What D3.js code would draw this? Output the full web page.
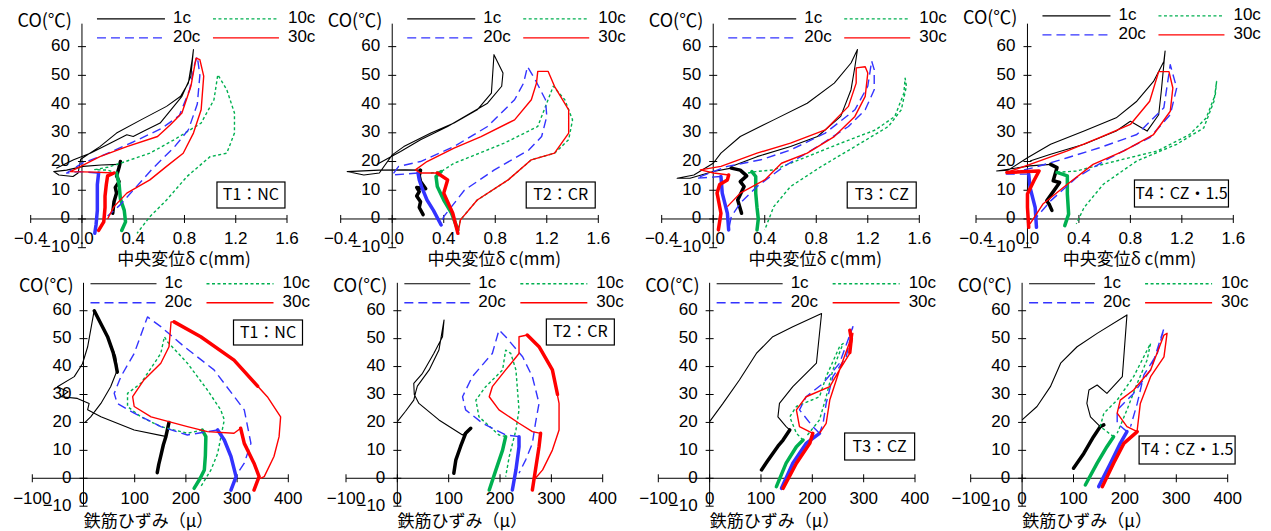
<!DOCTYPE html>
<html>
<head>
<meta charset="utf-8">
<script src="https://cdn.jsdelivr.net/npm/d3@7"></script>
<style>
body { margin: 0; background: #fff; }
svg { display: block; }
text { font-family: "Liberation Sans", Arial, sans-serif; fill: #000; }
.jp { font-family: "Noto Sans CJK JP", sans-serif; }
</style>
</head>
<body>
<svg id="chart" width="1271" height="531"></svg>
<script>
// series / ticks / labels
const seriesNames = ["1c", "10c", "20c", "30c"];
const topXTicks = [-0.4, 0, 0.4, 0.8, 1.2, 1.6];
const botXTicks = [-100, 0, 100, 200, 300, 400];
const yTicks = [-10, 0, 10, 20, 30, 40, 50, 60];
const panelNames = ["T1：NC", "T2：CR", "T3：CZ", "T4：CZ・1.5", "T1：NC", "T2：CR", "T3：CZ", "T4：CZ・1.5"];
const topXTitle = "中央変位δ c(mm)";
const botXTitle = "鉄筋ひずみ（μ）";
const yTitle = "CO(℃)";

// ---- top row: 中央変位 (mm) vs CO ----
// T1:NC
const d1_c1 = [[0.29,19],[0.15,18.8],[0.01,18.3],[-0.12,17],[-0.22,16.5],[-0.18,15.3],[-0.07,14.8],[-0.03,16],[-0.01,20.8],[0.14,25.2],[0.27,29.9],[0.46,34.5],[0.66,39.2],[0.77,42.7],[0.83,47.3],[0.86,55.5],[0.87,59],[0.85,49.7],[0.78,42.7],[0.61,33.4],[0.48,30.5],[0.40,28.7],[0.35,29.3],[0.22,26.4],[0.065,22.9],[-0.065,20.6],[-0.2,17.7]];
const d1_c1_heavy = [[[0.24,2],[0.25,6],[0.27,9],[0.26,11],[0.29,13],[0.27,15],[0.29,18],[0.30,20]]];
const d1_c10 = [[0.27,16],[0.2,17],[0.1,17.2],[0.2,18],[0.30,19.4],[0.53,22.9],[0.72,27.6],[0.93,33.4],[1.03,41.5],[1.06,50.2],[1.13,45],[1.19,36.9],[1.19,29.9],[1.13,22.9],[1.0,21.7],[0.82,14.8],[0.66,6.6],[0.53,0.8],[0.43,-5]];
const d1_c10_heavy = [[[0.31,-4],[0.34,-1],[0.33,3],[0.30,7],[0.29,12],[0.27,16]]];
const d1_c20 = [[0.12,16],[-0.02,16.5],[-0.12,16],[0,19.4],[0.14,21.7],[0.40,26.8],[0.62,31.5],[0.76,36],[0.84,45],[0.88,54],[0.9,56.6],[0.92,50],[0.9,40],[0.83,31],[0.72,25],[0.55,17.5],[0.42,11],[0.3,5],[0.2,1]];
const d1_c20_heavy = [[[0.10,-5],[0.11,-2],[0.12,3],[0.12,8],[0.12,12],[0.13,16]]];
const d1_c30 = [[0.25,16],[0.1,16.3],[-0.09,16.5],[-0.01,18.3],[0.14,21.7],[0.35,25.2],[0.59,28.7],[0.69,32.8],[0.78,36.9],[0.85,46.2],[0.89,56],[0.92,55.5],[0.95,49.7],[0.93,38],[0.87,29.9],[0.79,22.9],[0.66,18.3],[0.53,13.6],[0.35,9],[0.25,4.3],[0.2,0]];
const d1_c30_heavy = [[[0.13,-4],[0.17,-1],[0.18,4],[0.18,8],[0.19,12],[0.2,15],[0.25,16]]];
// T2:CR
const d2_c1 = [[0.22,17],[0.1,17.1],[-0.1,17],[-0.35,16.5],[-0.22,15.3],[-0.1,16],[0,22.3],[0.09,25.2],[0.3,29.9],[0.48,33.4],[0.66,38],[0.77,43.8],[0.79,57.2],[0.86,50.8],[0.85,46.2],[0.74,40.3],[0.61,36.9],[0.43,32.2],[0.22,27.6],[0.065,23.5],[-0.01,21.7],[-0.12,19]];
const d2_c1_heavy = [[[0.24,1.5],[0.21,4],[0.22,6],[0.19,8],[0.21,9.5],[0.19,11],[0.26,10.5],[0.22,13],[0.21,15],[0.22,17]]];
const d2_c10 = [[0.30,16],[0.38,16.5],[0.48,19.4],[0.61,21.7],[0.87,26.4],[1.13,32.2],[1.21,41.5],[1.25,46.2],[1.34,41.5],[1.4,34.5],[1.37,27.6],[1.26,22.9],[1.08,20.6],[0.9,13.6],[0.66,6.6],[0.53,-0.3],[0.51,-3.8]];
const d2_c10_heavy = [[[0.51,-3.8],[0.46,2],[0.40,6.6],[0.35,11.3],[0.34,14.8],[0.38,16.5]]];
const d2_c20 = [[0.2,16],[0,15.3],[0.05,18.3],[0.22,20],[0.48,25.2],[0.74,32.2],[0.95,41.5],[1.02,47.3],[1.05,53],[1.11,48.5],[1.19,41.5],[1.2,35.7],[1.16,28.7],[1.06,24],[0.79,17],[0.56,10],[0.4,0.8],[0.39,-0.3]];
const d2_c20_heavy = [[[0.38,-2.1],[0.32,3],[0.27,6.6],[0.23,11],[0.21,13.6],[0.2,16]]];
const d2_c30 = [[0.35,16],[0.22,16],[0.18,17.1],[0.27,20],[0.48,24.7],[0.69,28.7],[0.95,34.5],[1.08,41.5],[1.12,47.3],[1.13,51.4],[1.21,51.4],[1.26,46.2],[1.37,38],[1.37,29.9],[1.26,22.9],[1.08,20.6],[0.9,13.6],[0.66,6.6],[0.53,-0.3],[0.51,-5]];
const d2_c30_heavy = [[[0.51,-5],[0.47,2],[0.4,9],[0.43,13.6],[0.35,16]]];
// T3:CZ
const d3_c1 = [[0.14,17.7],[0,16.5],[-0.18,14.2],[-0.28,14.2],[-0.15,15.3],[0,19.4],[0.06,22.9],[0.21,28.7],[0.47,34.5],[0.73,40.3],[0.94,47.3],[1.07,54.3],[1.12,59],[1.1,53],[1.07,45],[0.99,35.7],[0.81,28.7],[0.6,25.2],[0.34,21.7],[0.14,18.3]];
const d3_c1_heavy = [[[0.22,2],[0.19,6.6],[0.24,11.3],[0.21,13],[0.26,15],[0.21,17],[0.14,17.7]]];
const d3_c10 = [[0.27,16],[0.33,16.5],[0.47,17.1],[0.73,21.7],[0.99,26.4],[1.26,31],[1.41,35.7],[1.48,43.8],[1.49,49],[1.5,46.2],[1.46,38],[1.36,32.2],[1.1,25.2],[0.84,18.3],[0.6,11.3],[0.47,4.3],[0.4,-3.8]];
const d3_c10_heavy = [[[0.34,-3.8],[0.35,0],[0.34,4],[0.33,9],[0.33,14.8],[0.3,16.5]]];
const d3_c20 = [[0.06,14.8],[-0.13,14.2],[0.0,16.5],[0.11,18.3],[0.37,20.6],[0.6,24],[0.87,29.9],[1.1,38],[1.2,46.2],[1.23,55],[1.25,52],[1.25,45],[1.18,38],[1.05,32.2],[0.81,25.2],[0.55,18.3],[0.34,11.3],[0.21,5.5],[0.14,0.8],[0.12,-3.8]];
const d3_c20_heavy = [[[0.12,-3.8],[0.11,2],[0.07,9],[0.06,14.8]]];
const d3_c30 = [[0.12,15.3],[0.005,16],[-0.1,17.1],[0.06,18.3],[0.34,22.9],[0.6,26.4],[0.87,31],[1.05,39.2],[1.11,47.3],[1.11,52.6],[1.18,53],[1.2,50.8],[1.18,42.7],[1.1,35.7],[0.94,28.7],[0.73,22.9],[0.53,19.4],[0.4,13.6],[0.21,9],[0.11,4.3]];
const d3_c30_heavy = [[[0.04,-3.8],[0.06,2],[0.03,9],[0.05,12],[0.11,13.6],[0.12,15.3]]];
// T4:CZ・1.5
const d4_c1 = [[0.18,19],[0.02,18.5],[-0.24,16.7],[-0.15,17],[0,21.3],[0.18,26],[0.44,30.6],[0.69,35.2],[0.85,41],[0.98,47.9],[1.06,54.8],[1.07,58.5],[1.04,44.4],[1.02,36.3],[0.93,30.6],[0.8,34],[0.69,30.6],[0.44,26],[0.18,22.5],[0.02,20.2]];
const d4_c1_heavy = [[[0.19,3],[0.17,5],[0.15,6.3],[0.25,12.7],[0.2,13.3],[0.23,17.9],[0.18,19]]];
const d4_c10 = [[0.23,16.2],[0.38,16.7],[0.69,20.2],[1.01,23.7],[1.26,29.4],[1.39,35.2],[1.46,43.3],[1.47,47.9],[1.45,41],[1.37,31.7],[1.16,26],[0.85,20.2],[0.59,12.1],[0.44,4],[0.38,-1.7]];
const d4_c10_heavy = [[[0.29,-2.3],[0.32,1.7],[0.31,8.7],[0.31,15],[0.23,16.2]]];
const d4_c20 = [[0.01,15.6],[-0.17,15.6],[0.05,17.9],[0.31,21.3],[0.56,24.8],[0.85,29.4],[1.06,38.7],[1.11,53.7],[1.16,45.6],[1.11,36.3],[0.95,28.3],[0.64,21.3],[0.38,14.4],[0.18,6.3],[0.07,0.6]];
const d4_c20_heavy = [[[0.07,-2.9],[0.06,4],[0.02,11],[0.01,15.6]]];
const d4_c30 = [[0.09,16.7],[-0.08,16.2],[-0.16,16.2],[0.02,19],[0.31,23.7],[0.56,28.3],[0.8,32.9],[0.95,41],[1.02,51.3],[1.1,51.3],[1.13,45.6],[1.11,37.5],[0.98,29.4],[0.75,23.7],[0.51,19],[0.31,12.1],[0.12,5.2],[0.02,-1.7]];
const d4_c30_heavy = [[[0.01,-2.9],[0,4],[0,8.7],[0.05,13.3],[0.09,16.7],[-0.16,16.2]]];

// ---- bottom row: 鉄筋ひずみ (μ) vs CO ----
// T1:NC
const s1_c1 = [[160,15],[99,17.3],[34,22],[8,24.5],[11,26.8],[-12,28.6],[-44,29.2],[-30,31],[-51,32.8],[-18,36.4],[-2,41],[8,47],[21,60.2],[47,50.7],[63,43.5],[66,38.8],[53,32.8],[34,26.8],[14,22],[3,20]];
const s1_c1_heavy = [[[144,2],[147,5],[151,8],[156,12],[161,15],[167,20]], [[21,60],[35,55],[47,50.7],[58,45],[63,41],[66,38]]];
const s1_c10 = [[232,17.3],[203,16.1],[151,18.5],[112,22],[86,25.7],[86,30.4],[112,34],[151,44.7],[158,50.7],[164,48.9],[203,41.2],[242,31.6],[268,24.5],[275,20.9],[271,17.3],[262,8.9],[249,3],[229,-3]];
const s1_c10_heavy = [[[216,-3.6],[228,0],[236,3],[238,8],[239,14.9],[232,17.3]]];
const s1_c20 = [[262,17.3],[203,15.5],[151,18.5],[99,23.3],[66,26.8],[60,30.4],[73,36.4],[99,44.7],[125,57.8],[151,54.3],[197,47.1],[255,38.8],[314,24.5],[327,12.5],[314,5.4],[301,1.8]];
const s1_c20_heavy = [[[288,-4.2],[298,0.6],[288,7.8],[275,13.7],[262,17.3]]];
const s1_c30 = [[307,17.9],[294,16.1],[242,16.7],[203,18.5],[132,22],[99,25.7],[96,29.2],[118,35.2],[151,41.2],[167,47.1],[171,56],[177,56],[229,50.7],[294,42.3],[359,29.2],[385,22],[382,14.9],[372,7.8],[353,0.6],[346,0]];
const s1_c30_heavy = [[[333,-4.2],[343,0.6],[333,5.4],[314,12.5],[307,17.9]], [[177,56],[229,50.7],[294,42.3],[340,33]]];
// T2:CR
const s2_c1 = [[0,20.3],[16,24],[32,28],[36,31],[39,33],[62,38.8],[81,45.9],[91,56.7],[88,50.7],[71,44.7],[49,37.6],[32,34],[33,30],[42,26.8],[81,20.9],[127,15.5],[143,17.9]];
const s2_c1_heavy = [[[110,1.8],[114,6.6],[123,11.3],[133,16.1],[143,17.9]]];
const s2_c10 = [[211,14.9],[198,15.5],[159,22],[153,28],[172,32.8],[205,38.8],[211,45.9],[221,44.7],[231,38.8],[237,24.5],[231,17.3],[218,7.8],[211,0.6]];
const s2_c10_heavy = [[[179,-4.2],[192,3],[205,10.1],[211,14.9]]];
const s2_c20 = [[237,14.9],[211,15.5],[166,19.7],[133,24.5],[127,29.2],[146,36.4],[185,44.7],[198,53.1],[211,50.7],[244,43.5],[263,36.4],[276,26.8],[269,19.7],[263,12.5],[250,6.6],[237,1.8]];
const s2_c20_heavy = [[[224,-4.2],[231,3],[237,11.3],[237,14.9]]];
const s2_c30 = [[279,16.1],[263,16.7],[237,19.7],[198,24.5],[179,29.2],[185,32.8],[211,38.8],[237,44.7],[237,50.7],[253,51.3],[276,47.1],[302,38.8],[315,26.8],[315,17.3],[302,10.1],[283,3],[269,0]];
const s2_c30_heavy = [[[263,-4.2],[269,3],[276,11.3],[279,16.1]], [[253,51.3],[276,47.1],[302,38.8],[312,30]]];
// T3:CZ
const s3_c1 = [[156,17.3],[149,18.5],[133,22],[136,26.8],[162,32.8],[208,41.2],[218,59],[162,54.3],[123,50.7],[91,44.7],[58,35.2],[26,26.8],[0,20.3]];
const s3_c1_heavy = [[[101,3],[112,6],[123,8.9],[133,11.5],[143,13.7],[156,17.3]]];
const s3_c10 = [[182,13.7],[169,16.1],[156,22],[169,25.7],[214,29.2],[227,36.4],[253,47.1],[260,48.3],[240,38.8],[227,29.2],[214,20.9],[188,14.9]];
const s3_c10_heavy = [[[130,-3],[149,5.4],[169,11.3],[182,13.7]]];
const s3_c20 = [[214,16.1],[201,18.5],[175,24.5],[188,29.2],[221,34],[253,41.2],[279,54.3],[266,43.5],[240,36.4],[227,26.8],[221,19.7],[214,16.1]];
const s3_c20_heavy = [[[140,-3.6],[162,5.4],[188,12.5],[214,16.1]]];
const s3_c30 = [[201,16.1],[175,18.5],[169,24.5],[188,29.2],[234,32.8],[253,38.8],[279,51.9],[273,44.7],[253,38.8],[234,28],[227,19.7],[214,16.1]];
const s3_c30_heavy = [[[143,-3.6],[169,5.4],[195,12.5],[201,16.1]], [[273,53],[276,50],[273,45]]];
// T4:CZ・1.5
const s4_c1 = [[159,19.1],[152,18.5],[133,22],[126,26.8],[130,31.6],[146,33.4],[165,30.4],[195,36.4],[204,58.5],[146,51.9],[107,47.1],[75,41.2],[55,32.8],[29,25.7],[0,20.9]];
const s4_c1_heavy = [[[100,3.6],[120,8.9],[139,14.9],[152,18.5],[159,19.1]]];
const s4_c10 = [[178,14.9],[152,18.5],[159,23.3],[185,28],[217,36.4],[250,48.3],[243,42.3],[224,34],[204,24.5],[185,16.1]];
const s4_c10_heavy = [[[123,-2.4],[146,5.4],[165,11.3],[178,14.9]]];
const s4_c20 = [[204,16.7],[185,19.7],[185,24.5],[217,30.4],[250,38.8],[276,53.7],[263,44.7],[237,37],[224,26.8],[211,18.5]];
const s4_c20_heavy = [[[149,-3],[172,5.4],[191,12.5],[204,16.7]]];
const s4_c30 = [[224,16.7],[204,18.5],[185,23.3],[191,28],[217,31.6],[250,38.8],[276,51.3],[282,51.9],[276,43.5],[250,36.4],[230,26.8],[224,17.3]];
const s4_c30_heavy = [[[156,-3],[178,5.4],[198,12.5],[224,16.7]]];

// line styles per series
const styles = {
  "1c":  {color: "#000000", dash: null,    w: 1.1},
  "10c": {color: "#00b050", dash: "3,2.5", w: 1.4},
  "20c": {color: "#3333ff", dash: "9,5",   w: 1.4},
  "30c": {color: "#ff0000", dash: null,    w: 1.4}
};

// panel layout
const panels = [
  {x0: 30.7,  x1: 287,    row: 0, legDy: 0,  lines: [d1_c1, d1_c10, d1_c20, d1_c30], heavy: [d1_c1_heavy, d1_c10_heavy, d1_c20_heavy, d1_c30_heavy], box: [135, 182, 68, 26]},
  {x0: 340.7, x1: 598.3,  row: 0, legDy: 0,  lines: [d2_c1, d2_c10, d2_c20, d2_c30], heavy: [d2_c1_heavy, d2_c10_heavy, d2_c20_heavy, d2_c30_heavy], box: [134, 182, 69, 26]},
  {x0: 661.7, x1: 919.3,  row: 0, legDy: 0,  lines: [d3_c1, d3_c10, d3_c20, d3_c30], heavy: [d3_c1_heavy, d3_c10_heavy, d3_c20_heavy, d3_c30_heavy], box: [134, 182, 69, 26]},
  {x0: 976,   x1: 1233.3, row: 0, legDy: -3, lines: [d4_c1, d4_c10, d4_c20, d4_c30], heavy: [d4_c1_heavy, d4_c10_heavy, d4_c20_heavy, d4_c30_heavy], box: [107, 180, 94, 27]},
  {x0: 32.3,  x1: 288.3,  row: 1, legDy: 0,  lines: [s1_c1, s1_c10, s1_c20, s1_c30], heavy: [s1_c1_heavy, s1_c10_heavy, s1_c20_heavy, s1_c30_heavy], box: [150, 320, 69, 25]},
  {x0: 346,   x1: 602.7,  row: 1, legDy: 0,  lines: [s2_c1, s2_c10, s2_c20, s2_c30], heavy: [s2_c1_heavy, s2_c10_heavy, s2_c20_heavy, s2_c30_heavy], box: [149, 319, 68, 26]},
  {x0: 658.3, x1: 915,    row: 1, legDy: 0,  lines: [s3_c1, s3_c10, s3_c20, s3_c30], heavy: [s3_c1_heavy, s3_c10_heavy, s3_c20_heavy, s3_c30_heavy], box: [135, 433, 70, 27]},
  {x0: 970.7, x1: 1227.7, row: 1, legDy: 0,  lines: [s4_c1, s4_c10, s4_c20, s4_c30], heavy: [s4_c1_heavy, s4_c10_heavy, s4_c20_heavy, s4_c30_heavy], box: [117, 436, 96, 28]}
];
const rows = [
  {yb: 247.7, yt: 17.9,  axTop: 68, xTicks: topXTicks, fmt: d3.format(".1f"), title: topXTitle, titleSize: 17, titleDx: 102, titleY: 260.5, leg: [15, 83, 91, 131, 197, 206]},
  {yb: 506.2, yt: 282.8, axTop: 70, xTicks: botXTicks, fmt: d3.format("d"),   title: botXTitle, titleSize: 17, titleDx: 65,  titleY: 522, leg: [7, 73, 81, 123, 190, 199]}
];

const svg = d3.select("#chart");
const yFmt = d3.format("d");

panels.forEach((p, i) => {
  const r = rows[p.row];
  const xd = r.xTicks;
  const x = d3.scaleLinear().domain([xd[0], xd[xd.length - 1]]).range([p.x0, p.x1]);
  const y = d3.scaleLinear().domain([-10, 70]).range([r.yb, r.yt]);
  const g = svg.append("g");
  const ax = x(0), ay = y(0);

  // x axis
  g.append("line").attr("x1", x(xd[0])).attr("x2", x(xd[xd.length - 1]))
    .attr("y1", ay).attr("y2", ay).attr("stroke", "#000");
  g.selectAll(".xt").data(xd).enter().append("line")
    .attr("x1", d => x(d)).attr("x2", d => x(d))
    .attr("y1", ay - 4).attr("y2", ay + 4).attr("stroke", "#000");
  g.selectAll(".xl").data(xd).enter().append("text")
    .attr("x", d => x(d)).attr("y", ay + 21)
    .attr("text-anchor", "middle").attr("dominant-baseline", "middle")
    .attr("font-size", 17).text(d => r.fmt(d));

  // y axis
  g.append("line").attr("x1", ax).attr("x2", ax)
    .attr("y1", y(-10)).attr("y2", y(r.axTop)).attr("stroke", "#000");
  g.selectAll(".yt").data(yTicks).enter().append("line")
    .attr("x1", ax - 4).attr("x2", ax + 4)
    .attr("y1", d => y(d)).attr("y2", d => y(d)).attr("stroke", "#000");
  g.selectAll(".yl").data(yTicks).enter().append("text")
    .attr("x", ax - 12).attr("y", d => y(d))
    .attr("text-anchor", "end").attr("dominant-baseline", "middle")
    .attr("font-size", 17).text(d => yFmt(d));
  g.append("text").attr("class", "jp")
    .attr("x", ax - 10).attr("y", y(70) + 4 + p.legDy)
    .attr("text-anchor", "end").attr("dominant-baseline", "middle")
    .attr("font-size", 18).text(yTitle);

  // x title
  g.append("text").attr("class", "jp")
    .attr("x", ax + r.titleDx).attr("y", r.titleY)
    .attr("text-anchor", "middle").attr("dominant-baseline", "middle")
    .attr("font-size", r.titleSize).text(r.title);

  // series
  const line = d3.line().x(d => x(d[0])).y(d => y(d[1]));
  seriesNames.forEach((s, k) => {
    const st = styles[s];
    g.append("path").attr("d", line(p.lines[k]))
      .attr("fill", "none").attr("stroke", st.color)
      .attr("stroke-width", st.w).attr("stroke-dasharray", st.dash)
      .attr("stroke-linejoin", "round");
    p.heavy[k].forEach(seg => {
      g.append("path").attr("d", line(seg))
        .attr("fill", "none").attr("stroke", st.color)
        .attr("stroke-width", 3.5).attr("stroke-linejoin", "round")
        .attr("stroke-linecap", "round");
    });
  });

  // legend (2 x 2)
  const L = r.leg;
  const ly = y(70) + 1 + p.legDy;
  seriesNames.forEach((s, k) => {
    const st = styles[s];
    const c = k % 2;
    const yy = ly + (k >= 2 ? 19 : 0);
    const lx0 = ax + (c === 0 ? L[0] : L[3]);
    const lx1 = ax + (c === 0 ? L[1] : L[4]);
    const tx = ax + (c === 0 ? L[2] : L[5]);
    g.append("line").attr("x1", lx0).attr("x2", lx1).attr("y1", yy).attr("y2", yy)
      .attr("stroke", st.color).attr("stroke-width", st.w)
      .attr("stroke-dasharray", st.dash);
    g.append("text").attr("x", tx).attr("y", yy)
      .attr("dominant-baseline", "middle").attr("font-size", 17).text(s);
  });

  // panel name box
  const b = p.box;
  g.append("rect").attr("x", ax + b[0]).attr("y", b[1])
    .attr("width", b[2]).attr("height", b[3])
    .attr("fill", "#fff").attr("stroke", "#000").attr("stroke-width", 1.2);
  g.append("text").attr("class", "jp")
    .attr("x", ax + b[0] + b[2] / 2).attr("y", b[1] + b[3] / 2 + 1)
    .attr("text-anchor", "middle").attr("dominant-baseline", "middle")
    .attr("font-size", 16).text(panelNames[i]);
});
</script>
</body>
</html>
